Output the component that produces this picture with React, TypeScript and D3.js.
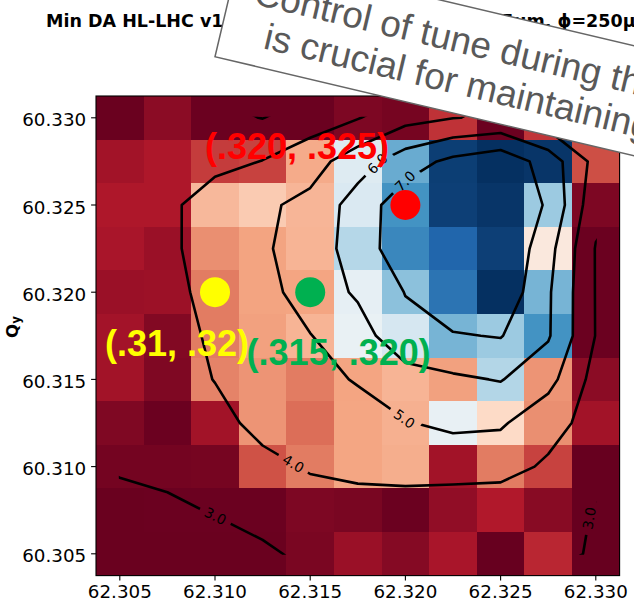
import React from "react";
import * as d3 from "d3";

// Tune scan: cell centres (horizontal tune, vertical tune from top row down)
const tuneX = [62.305, 62.3075, 62.31, 62.3125, 62.315, 62.3175, 62.32, 62.3225, 62.325, 62.3275, 62.33];
const tuneY = [60.33, 60.3275, 60.325, 60.3225, 60.32, 60.3175, 60.315, 60.3125, 60.31, 60.3075, 60.305];

// Minimum DA per scan point (sigma), one row per entry of tuneY
const minDA = [
  [3.02, 3.24, 3.03, 3.03, 3.03, 3.15, 3.1, 3.68, 3.03, 3.7, 3.3],
  [3.39, 3.47, 3.75, 3.79, 4.56, 5.83, 6.76, 7.87, 8.0, 7.95, 3.88],
  [3.47, 3.47, 4.68, 4.85, 4.65, 5.88, 7.0, 7.86, 7.95, 6.42, 3.15],
  [3.44, 3.34, 4.34, 4.49, 4.64, 6.22, 7.13, 7.5, 7.86, 5.23, 3.03],
  [3.34, 3.35, 4.2, 4.49, 4.5, 5.73, 6.54, 7.34, 8.0, 6.67, 3.03],
  [3.4, 3.18, 4.2, 4.47, 4.64, 5.68, 5.94, 6.67, 6.42, 7.0, 3.03],
  [3.39, 3.16, 4.25, 4.38, 4.2, 4.5, 4.64, 4.47, 6.24, 4.38, 3.24],
  [3.16, 3.03, 3.39, 4.38, 4.1, 4.51, 4.6, 5.7, 5.0, 4.34, 3.39],
  [3.09, 3.09, 3.1, 3.9, 4.2, 4.51, 4.58, 3.39, 4.2, 3.79, 3.0],
  [3.02, 3.03, 3.03, 3.03, 3.15, 3.12, 3.03, 3.28, 3.49, 3.22, 3.0],
  [3.02, 3.02, 3.02, 3.02, 3.13, 3.34, 3.2, 3.44, 3.0, 3.6, 3.0],
];

// Smoothed DA map on the same grid, used for the iso-DA lines
const minDASmooth = [
  [3.3, 3.3, 3.2, 2.98, 3.5, 3.95, 4.66, 4.98, 5.1, 4.38, 4.4],
  [3.4, 3.5, 3.65, 4.03, 4.59, 5.54, 6.54, 7.24, 7.67, 6.57, 4.68],
  [3.4, 3.72, 4.65, 4.83, 5.26, 6.45, 7.57, 7.6, 7.6, 6.92, 4.29],
  [3.4, 3.7, 4.7, 4.86, 5.5, 6.41, 7.69, 7.9, 8.0, 6.36, 3.95],
  [3.4, 3.54, 4.5, 4.66, 5.45, 6.13, 7.03, 7.7, 7.77, 6.13, 3.96],
  [3.4, 3.5, 4.2, 4.6, 4.97, 5.57, 6.7, 6.93, 7.05, 6.1, 3.97],
  [3.4, 3.5, 4.03, 4.5, 4.57, 5.1, 5.57, 5.85, 6.05, 5.34, 3.64],
  [3.4, 3.4, 3.65, 4.32, 4.5, 4.43, 4.95, 5.2, 5.13, 4.3, 3.69],
  [3.2, 3.4, 3.6, 3.7, 4.1, 4.25, 4.3, 4.35, 4.3, 3.88, 3.45],
  [2.42, 2.72, 3.1, 3.3, 3.51, 3.61, 3.63, 3.5, 3.47, 3.4, 2.95],
  [2.2, 2.3, 2.33, 2.86, 3.19, 3.3, 3.3, 3.2, 3.25, 3.3, 2.89],
];

const daLevels = [3, 4, 5, 6, 7];
const daColorRange = [3, 8];

const xTicks = [62.305, 62.31, 62.315, 62.32, 62.325, 62.33];
const yTicks = [60.305, 60.31, 60.315, 60.32, 60.325, 60.33];

// Candidate working points
const pointTunes = [
  [62.32, 60.325],
  [62.31, 60.32],
  [62.315, 60.32],
];
const pointLabels = ["(.320, .325)", "(.31, .32)", "(.315, .320)"];

const titleText = "Min DA HL-LHC v1.3, I=1.1e11, β*=15cm, ε=2.5μm, ϕ=250μrad";
const noteLines = ["Control of tune during the ramp", "is crucial for maintaining DA"];

// ---- layout & style ----
const W = 634;
const H = 606;
const M = { left: 96, top: 96, right: 619.6, bottom: 575.6 };
const tickFont = 18.3;
const pointColors = ["#ff0000", "#ffff00", "#00b050"];
// annotation text anchors (left end of baseline) in tune coordinates
const pointLabelAt = [
  [62.30947, 60.32761],
  [62.30422, 60.31634],
  [62.31166, 60.3158],
];
// where each iso-DA label sits along its line
const contourLabelSpots = [
  { level: 3, at: [62.31, 60.30711] },
  { level: 3, at: [62.32935, 60.3071] },
  { level: 4, at: [62.31404, 60.31003] },
  { level: 5, at: [62.31998, 60.31279] },
  { level: 6, at: [62.3184, 60.32752] },
  { level: 7, at: [62.31993, 60.32643] },
];
const rdBu = [
  "#67001f", "#b2182b", "#d6604d", "#f4a582", "#fddbc7", "#f7f7f7",
  "#d1e5f0", "#92c5de", "#4393c3", "#2166ac", "#053061",
];
const mplFont = "'DejaVu Sans', Verdana, sans-serif";
const sansFont = "'Liberation Sans', Arial, Helvetica, sans-serif";

export default function App() {
  const nCols = tuneX.length;
  const nRows = tuneY.length;
  const xStep = tuneX[1] - tuneX[0];
  const yStep = tuneY[0] - tuneY[1];

  const x = d3
    .scaleLinear()
    .domain([tuneX[0] - xStep / 2, tuneX[nCols - 1] + xStep / 2])
    .range([M.left, M.right]);
  const y = d3
    .scaleLinear()
    .domain([tuneY[nRows - 1] - yStep / 2, tuneY[0] + yStep / 2])
    .range([M.bottom, M.top]);

  const color = d3
    .scaleLinear<string>()
    .domain(rdBu.map((_, i) => daColorRange[0] + (i * (daColorRange[1] - daColorRange[0])) / (rdBu.length - 1)))
    .range(rdBu)
    .interpolate(d3.interpolateRgb)
    .clamp(true);

  // contour grid coordinates -> pixels (grid value i sits at i + 0.5)
  const gx = d3.scaleLinear().domain([0.5, nCols - 0.5]).range([x(tuneX[0]), x(tuneX[nCols - 1])]);
  const gy = d3.scaleLinear().domain([0.5, nRows - 0.5]).range([y(tuneY[0]), y(tuneY[nRows - 1])]);
  const projection = d3.geoTransform({
    point(px: number, py: number) {
      (this as any).stream.point(gx(px), gy(py));
    },
  });
  const geoPath = d3.geoPath(projection);
  const contours = d3.contours().size([nCols, nRows]).thresholds(daLevels)(minDASmooth.flat());

  const dom = {
    x0: x(tuneX[0]),
    x1: x(tuneX[nCols - 1]),
    y0: y(tuneY[0]),
    y1: y(tuneY[nRows - 1]),
  };
  const inDomain = (p: number[]) =>
    p[0] >= dom.x0 - 0.5 && p[0] <= dom.x1 + 0.5 && p[1] >= dom.y0 - 0.5 && p[1] <= dom.y1 + 0.5;

  const fmt = d3.format(".1f");
  const labelFont = 13.9;
  const labels = contourLabelSpots.map((spot) => {
    const c = contours.find((cc) => cc.value === spot.level)!;
    const target = [x(spot.at[0]), y(spot.at[1])];
    let best: { d: number; x: number; y: number; angle: number } | null = null;
    for (const poly of c.coordinates) {
      for (const ring of poly) {
        const pts = ring.map(([a, b]) => [gx(a), gy(b)]);
        for (let i = 0; i < pts.length - 1; i++) {
          const p = pts[i];
          const q = pts[i + 1];
          if (!inDomain(p) || !inDomain(q)) continue;
          const dx = q[0] - p[0];
          const dy = q[1] - p[1];
          const L2 = dx * dx + dy * dy;
          if (L2 === 0) continue;
          let t = ((target[0] - p[0]) * dx + (target[1] - p[1]) * dy) / L2;
          t = Math.max(0, Math.min(1, t));
          const cx = p[0] + t * dx;
          const cy = p[1] + t * dy;
          const d = Math.hypot(cx - target[0], cy - target[1]);
          if (!best || d < best.d) best = { d, x: cx, y: cy, angle: (Math.atan2(dy, dx) * 180) / Math.PI };
        }
      }
    }
    let angle = best ? best.angle : 0;
    while (angle >= 90) angle -= 180;
    while (angle < -90) angle += 180;
    const text = fmt(spot.level);
    const width = (text.length - 1) * 0.636 * labelFont + 0.318 * labelFont;
    return { x: best ? best.x : target[0], y: best ? best.y : target[1], angle, text, width };
  });

  return (
    <svg
      width={W}
      height={H}
      viewBox={`0 0 ${W} ${H}`}
      style={{ position: "absolute", left: 0, top: 0, background: "#fff" }}
    >
      <defs>
        <clipPath id="contour-domain">
          <rect x={dom.x0 - 1} y={dom.y0 - 1} width={dom.x1 - dom.x0 + 2} height={dom.y1 - dom.y0 + 2} />
        </clipPath>
        <mask id="contour-label-gaps" maskUnits="userSpaceOnUse" x={0} y={0} width={W} height={H}>
          <rect x={0} y={0} width={W} height={H} fill="white" />
          {labels.map((l, i) => (
            <rect
              key={i}
              x={-(l.width + 12) / 2}
              y={-8}
              width={l.width + 12}
              height={16}
              fill="black"
              transform={`translate(${l.x},${l.y}) rotate(${l.angle})`}
            />
          ))}
        </mask>
      </defs>

      {/* title */}
      <text x={46} y={27} fontFamily={mplFont} fontWeight="bold" fontSize={17.5} fill="#000">
        {titleText}
      </text>

      {/* DA heat map */}
      <g shapeRendering="crispEdges">
        {minDA.map((row, i) =>
          row.map((v, j) => {
            const x0 = x(tuneX[j] - xStep / 2);
            const x1 = x(tuneX[j] + xStep / 2);
            const y0 = y(tuneY[i] + yStep / 2);
            const y1 = y(tuneY[i] - yStep / 2);
            return <rect key={`${i}-${j}`} x={x0} y={y0} width={x1 - x0} height={y1 - y0} fill={color(v)} />;
          })
        )}
      </g>

      {/* iso-DA lines */}
      <g clipPath="url(#contour-domain)">
        <g mask="url(#contour-label-gaps)">
          {contours.map((c) => (
            <path
              key={c.value}
              d={geoPath(c as any) || ""}
              fill="none"
              stroke="#000"
              strokeWidth={2.6}
              strokeLinejoin="round"
            />
          ))}
        </g>
      </g>
      {labels.map((l, i) => (
        <text
          key={i}
          transform={`translate(${l.x},${l.y}) rotate(${l.angle})`}
          textAnchor="middle"
          dominantBaseline="central"
          fontFamily={mplFont}
          fontSize={labelFont}
          fill="#000"
        >
          {l.text}
        </text>
      ))}

      {/* axes frame */}
      <rect
        x={M.left}
        y={M.top}
        width={M.right - M.left}
        height={M.bottom - M.top}
        fill="none"
        stroke="#000"
        strokeWidth={1.1}
      />
      {xTicks.map((t) => (
        <g key={t} transform={`translate(${x(t)},0)`}>
          <line y1={M.bottom} y2={M.bottom + 4.9} stroke="#000" strokeWidth={1.1} />
          <text y={597.5} textAnchor="middle" fontFamily={mplFont} fontSize={tickFont} fill="#000">
            {d3.format(".3f")(t)}
          </text>
        </g>
      ))}
      {yTicks.map((t) => (
        <g key={t} transform={`translate(0,${y(t)})`}>
          <line x1={M.left - 4.9} x2={M.left} stroke="#000" strokeWidth={1.1} />
          <text x={M.left - 9.8} y={8.6} textAnchor="end" fontFamily={mplFont} fontSize={tickFont} fill="#000">
            {d3.format(".3f")(t)}
          </text>
        </g>
      ))}
      <text
        transform={`translate(18,327) rotate(-90)`}
        textAnchor="middle"
        fontFamily={mplFont}
        fontWeight="bold"
        fontSize={16.67}
        fill="#000"
      >
        Q
        <tspan fontSize={11.7} dy={1.5}>
          y
        </tspan>
      </text>

      {/* working points */}
      {pointTunes.map((p, i) => (
        <circle key={i} cx={x(p[0])} cy={y(p[1])} r={15} fill={pointColors[i]} />
      ))}
      {pointLabels.map((s, i) => (
        <text
          key={i}
          x={x(pointLabelAt[i][0])}
          y={y(pointLabelAt[i][1])}
          fontFamily={sansFont}
          fontWeight="bold"
          fontSize={36}
          fill={pointColors[i]}
        >
          {s}
        </text>
      ))}

      {/* callout note */}
      <g transform="translate(215,56.7) rotate(13.3)">
        <rect x={0} y={-107} width={720} height={107} fill="#fff" stroke="#666" strokeWidth={1.5} />
        <text x={24} y={-60} fontFamily={sansFont} fontSize={37} fill="#595959">
          {noteLines[0]}
        </text>
        <text x={44} y={-19} fontFamily={sansFont} fontSize={37} fill="#595959">
          {noteLines[1]}
        </text>
      </g>
    </svg>
  );
}
